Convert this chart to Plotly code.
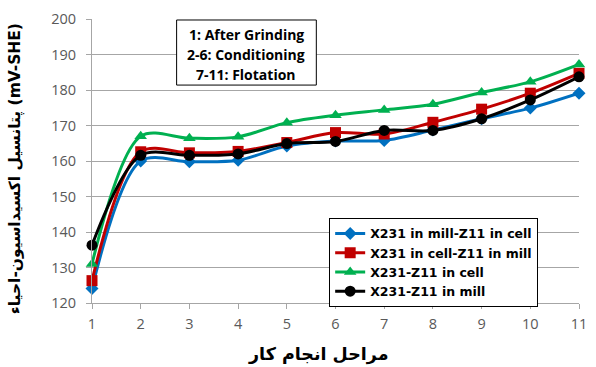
import plotly.graph_objects as go

stages = [1, 2, 3, 4, 5, 6, 7, 8, 9, 10, 11]
blue_vals = [124.1, 160.0, 159.8, 160.2, 164.2, 165.6, 165.8, 168.7, 171.9, 174.9, 179.1]
red_vals = [126.3, 162.6, 162.3, 162.7, 165.2, 168.0, 167.6, 170.9, 174.6, 179.1, 184.7]
green_vals = [131.0, 167.0, 166.4, 166.8, 170.8, 172.9, 174.4, 176.0, 179.3, 182.3, 187.2]
black_vals = [136.3, 161.6, 161.6, 162.0, 164.9, 165.5, 168.6, 168.6, 171.9, 177.2, 183.7]

names = ["X231 in mill-Z11 in cell", "X231 in cell-Z11 in mill",
         "X231-Z11 in cell", "X231-Z11 in mill"]
colors = ["#0070C0", "#C00000", "#00B050", "#000000"]
symbols = ["diamond", "square", "triangle-up", "circle"]
sizes = [10, 11, 11, 11]
series = [blue_vals, red_vals, green_vals, black_vals]

y_title = "پتانسیل اکسیداسیون-احیاء (mV-SHE)"
x_title = "مراحل انجام کار"
note_lines = ["1: After Grinding", "2-6: Conditioning", "7-11: Flotation"]

fig = go.Figure()
for vals, name, c, s, sz in zip(series, names, colors, symbols, sizes):
    fig.add_trace(go.Scatter(
        x=stages, y=vals, name=name, mode="lines+markers",
        line=dict(color=c, width=3, shape="spline", smoothing=0.9),
        marker=dict(color=c, symbol=s, size=sz),
        cliponaxis=False,
    ))

EN = "Open Sans"
fig.update_layout(
    width=596, height=367,
    margin=dict(l=92, r=9, t=15, b=64),
    paper_bgcolor="white", plot_bgcolor="white",
    font=dict(family=EN, size=14, color="#595959"),
    legend=dict(
        x=0.487, y=0.30, xanchor="left", yanchor="top",
        bordercolor="black", borderwidth=1, bgcolor="white",
        font=dict(family="DejaVu Sans", size=12.5, color="black", weight="bold"),
        tracegroupgap=0,
    ),
    xaxis=dict(
        range=[1, 11], tickmode="array", tickvals=stages,
        showgrid=False, showline=True, linecolor="#A6A6A6", linewidth=1,
        ticks="outside", ticklen=5, tickcolor="#A6A6A6",
        ticklabelstandoff=3,
        tickfont=dict(family=EN, size=14.5, color="#595959"),
        zeroline=False,
    ),
    yaxis=dict(
        range=[120, 200], dtick=10,
        showgrid=True, gridcolor="#A6A6A6", gridwidth=1,
        showline=True, linecolor="#A6A6A6", linewidth=1,
        ticks="outside", ticklen=5, tickcolor="#A6A6A6",
        ticklabelstandoff=7,
        tickfont=dict(family=EN, size=14.5, color="#595959"),
        zeroline=False,
    ),
)

# axis titles as annotations
fig.add_annotation(text=y_title, xref="paper", yref="paper",
                   x=(15 - 92) / 495, y=(303 - 167) / 288, textangle=-90,
                   showarrow=False, xanchor="center", yanchor="middle",
                   font=dict(family="DejaVu Sans", size=15.5, color="black", weight="bold"))
fig.add_annotation(text=x_title, xref="paper", yref="paper",
                   x=(322 - 92) / 495, y=(303 - 355) / 288,
                   showarrow=False, xanchor="center", yanchor="middle",
                   font=dict(family="DejaVu Sans", size=17.5, color="black", weight="bold"))

# annotation box
fig.add_shape(type="rect", xref="paper", yref="paper",
              x0=(178 - 92) / 495, x1=(320 - 92) / 495,
              y0=(303 - 82) / 288, y1=(303 - 16) / 288,
              line=dict(color="black", width=1), fillcolor="white", layer="above")
for i, t in enumerate(note_lines):
    fig.add_annotation(text=t, xref="paper", yref="paper",
                       x=(249 - 92) / 495, y=(303 - (31 + 20 * i)) / 288,
                       showarrow=False, xanchor="center", yanchor="middle",
                       font=dict(family=EN, size=14, color="black", weight="bold"))

fig.write_html("out.html")
